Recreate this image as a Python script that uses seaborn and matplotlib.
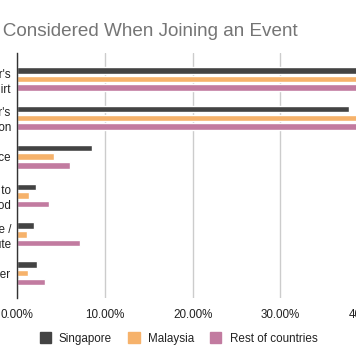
import matplotlib
matplotlib.use("Agg")
import matplotlib.pyplot as plt
import seaborn as sns
import pandas as pd

categories = ["Finisher's\nT-shirt", "Organizer's\nReputation", "Price",
              "Proximity to\nneighbourhood", "Scenic Course /\nRoute", "Other"]
singapore = [42.0, 37.8, 8.5, 2.1, 1.9, 2.3]
malaysia = [45.0, 41.0, 4.2, 1.3, 1.1, 1.2]
rest = [44.0, 40.0, 6.0, 3.6, 7.1, 3.2]
series_names = ["Singapore", "Malaysia", "Rest of countries"]
colors = ["#434343", "#f6b26b", "#c27ba0"]
x_ticks = [0, 10, 20, 30, 40]

rows = []
for name, vals in zip(series_names, [singapore, malaysia, rest]):
    for c, v in zip(categories, vals):
        rows.append({"cat": c, "value": v, "country": name})
df = pd.DataFrame(rows)

sns.set_theme(style="white")
plt.rcParams["font.family"] = ["Liberation Sans", "DejaVu Sans"]

W, H = 356, 364
fig = plt.figure(figsize=(W / 100, H / 100), dpi=100)
left, right_px = 17.3, 17.3 + 350.8
top, bottom = 53, 298
ax = fig.add_axes([left / W, (H - bottom) / H, (right_px - left) / W, (bottom - top) / H])

sns.barplot(data=df, y="cat", x="value", hue="country", orient="h",
            palette=colors, hue_order=series_names, order=categories,
            width=0.67, gap=0.25, saturation=1, ax=ax, legend=False)

ax.set_xlim(0, 40)
ax.set_ylim(5.64, -0.67)
ax.set_xticks(x_ticks)
ax.set_xticklabels([f"{t:.2f}%" for t in x_ticks])
ax.xaxis.grid(True, color="#cccccc", linewidth=1)
ax.set_axisbelow(True)
for s in ["top", "right", "bottom"]:
    ax.spines[s].set_visible(False)
ax.spines["left"].set_color("#333333")
ax.spines["left"].set_linewidth(1)
ax.tick_params(axis="both", length=0, labelsize=8.4, colors="#222222")
ax.tick_params(axis="y", pad=4.5)
ax.tick_params(axis="x", pad=8)
for lbl in ax.get_yticklabels():
    lbl.set_linespacing(1.35)
ax.set_xlabel("")
ax.set_ylabel("")

fig.text(298 / W, 1 - 36 / H, "Factors Considered When Joining an Event",
         ha="right", va="baseline", fontsize=13.6, color="#757575")

handles = [plt.Rectangle((0, 0), 1, 1, color=c) for c in colors]
fig.legend(handles, series_names, loc="center", bbox_to_anchor=(178.5 / W, 1 - 338.5 / H),
           ncol=3, frameon=False, fontsize=8.4, handlelength=0.95, handleheight=0.95,
           columnspacing=1.4, handletextpad=0.7, labelcolor="#222222",
           borderpad=0, borderaxespad=0)

fig.savefig("out.png", dpi=100)
